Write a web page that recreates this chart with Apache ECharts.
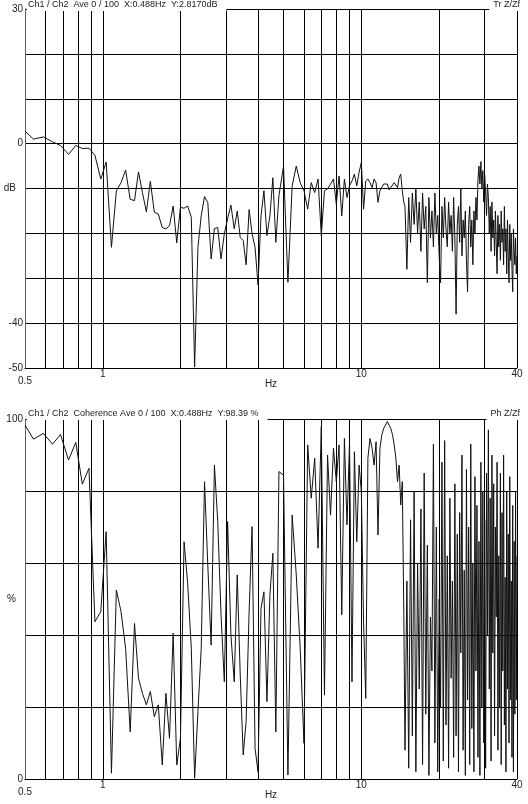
<!DOCTYPE html>
<html>
<head>
<meta charset="utf-8">
<script src="https://cdn.jsdelivr.net/npm/echarts@6/dist/echarts.min.js"></script>
<style>
html, body { margin: 0; padding: 0; background: #fff; }
#main { width: 528px; height: 804px; }
</style>
</head>
<body>
<div id="main"></div>
<script>
// frequency points (Hz), shared by both panels
var freq = [
  0.5, 0.539, 0.589, 0.639, 0.686, 0.737, 0.786, 0.833, 0.884, 0.932,
  0.982, 1.030, 1.080, 1.128, 1.176, 1.225, 1.276, 1.326, 1.374, 1.423,
  1.474, 1.527, 1.582, 1.639, 1.698, 1.754, 1.811, 1.871, 1.932, 1.996,
  2.062, 2.129, 2.199, 2.265, 2.333, 2.402, 2.474, 2.547, 2.624, 2.702,
  2.783, 2.866, 2.951, 3.039, 3.130, 3.223, 3.311, 3.400, 3.491, 3.583,
  3.680, 3.779, 3.880, 3.984, 4.091, 4.200, 4.313, 4.429, 4.547, 4.669,
  4.8, 5.0, 5.2, 5.4, 5.6, 5.8, 6.0, 6.2, 6.4, 6.6,
  6.8, 7.0, 7.2, 7.4, 7.6, 7.8, 8.0, 8.2, 8.4, 8.6,
  8.8, 9.0, 9.2, 9.4, 9.6, 9.8, 10.0, 10.2, 10.4, 10.6,
  10.8, 11.0, 11.2, 11.4, 11.6, 11.8, 12.0, 12.2, 12.4, 12.6,
  12.8, 13.0, 13.2, 13.4, 13.6, 13.8, 14.0, 14.2, 14.4, 14.6,
  14.75, 15, 15.25, 15.5, 15.75, 16, 16.25, 16.5, 16.75, 17, 17.25, 17.5,
  17.75, 18, 18.25, 18.5, 18.75, 19, 19.25, 19.5, 19.75, 20, 20.25, 20.5,
  20.75, 21, 21.25, 21.5, 21.75, 22, 22.25, 22.5, 22.75, 23, 23.25, 23.5,
  23.75, 24, 24.25, 24.5, 24.75, 25, 25.25, 25.5, 25.75, 26, 26.25, 26.5,
  26.75, 27, 27.25, 27.5, 27.75, 28, 28.25, 28.5, 28.75, 29, 29.25, 29.5,
  29.75, 30, 30.25, 30.5, 30.75, 31, 31.25, 31.5, 31.75, 32, 32.25, 32.5,
  32.75, 33, 33.25, 33.5, 33.75, 34, 34.25, 34.5, 34.75, 35, 35.25, 35.5,
  35.75, 36, 36.25, 36.5, 36.75, 37, 37.25, 37.5, 37.75, 38, 38.25, 38.5,
  38.75, 39, 39.25, 39.5, 39.75, 40
];

// top panel: transfer magnitude (dB)
var trDb = [
  2.8, 1.0, 1.5, 0.4, -0.4, -2.4, -0.4, -1.1, -1.0, -2.6,
  -7.9, -4.1, -23.1, -10.5, -8.7, -5.9, -12.4, -12.7, -6.3, -10.9,
  -15.2, -8.4, -15.3, -15.7, -18.7, -19.0, -18.3, -13.9, -22.1, -14.2,
  -14.4, -13.9, -16.4, -49.8, -23.1, -16.1, -11.8, -13.1, -25.7, -18.9,
  -18.7, -25.7, -20.1, -16.7, -13.7, -19.0, -15.0, -20.9, -21.6, -27.0,
  -14.7, -20.1, -23.1, -31.5, -16.1, -10.5, -20.5, -16.1, -7.6, -22.0,
  -11.6, -5.0, -30.9, -9.4, -5.0, -8.7, -10.5, -14.6, -8.7, -10.9,
  -7.9, -20.5, -10.5, -10.1, -9.0, -7.9, -13.5, -7.2, -16.1, -7.9,
  -12.0, -9.4, -8.3, -6.8, -9.4, -6.4, -4.2, -14.6, -8.3, -7.9,
  -8.7, -9.8, -7.9, -8.7, -13.1, -10.5, -10.9, -9.0, -9.4, -9.0,
  -10.3, -9.8, -9.4, -8.7, -8.3, -9.8, -7.6, -6.8, -10.5, -13.1,
  -14, -28, -12, -22, -11, -18, -10, -20, -13, -24, -11, -19,
  -14, -31, -12, -21, -15, -23, -11, -20, -16, -25, -31, -14,
  -21, -12, -19, -23, -13, -20, -16, -24, -12, -21, -38, -18,
  -14, -22, -10, -25, -17, -21, -15, -26, -33, -18, -14, -23,
  -17, -27, -15, -20, -12, -17, -8, -5, -9, -4, -10, -6,
  -13, -7, -11, -16, -9, -12, -20, -14, -24, -13, -21, -17,
  -25, -15, -22, -29, -16, -23, -18, -26, -15, -22, -19, -27,
  -14, -24, -19, -29, -17, -25, -31, -18, -26, -20, -28, -33,
  -19, -24, -27, -21, -29, -25
];

// bottom panel: coherence (%)
var coh = [
  98.3, 94.4, 96.0, 93.0, 95.7, 88.6, 93.5, 81.9, 86.3, 43.7,
  46.5, 68.7, 1.6, 52.5, 46.5, 36.3, 13.1, 43.2, 28.0, 23.8,
  20.6, 24.3, 17.3, 20.6, 3.9, 23.8, 11.3, 40.5, 3.9, 11.3,
  65.9, 54.4, 36.3, 0.2, 18.7, 36.3, 82.6, 59.4, 37.2, 87.2,
  71.5, 45.6, 27.0, 71.5, 40.0, 27.0, 56.7, 28.9, 6.7, 15.9,
  46.5, 70.1, 8.5, 2.0, 47.4, 52.0, 21.5, 51.1, 62.7, 13.1,
  85.4, 84.4, 1.1, 73.3, 56.7, 36.3, 9.9, 92.8, 78.0, 89.1,
  64.1, 97.9, 23.3, 90.0, 73.3, 91.9, 82.6, 92.8, 45.6, 94.6,
  70.6, 93.5, 27.0, 90.9, 65.9, 87.2, 79.8, 43.7, 22.4, 89.1,
  94.6, 91.9, 87.2, 93.7, 67.8, 91.9, 95.6, 97.4, 98.3, 99.3,
  99.7, 97.4, 95.6, 92.8, 89.1, 82.6, 87.2, 76.1, 82.6, 45.6,
  8, 55, 3, 72, 12, 80, 2, 60, 25, 75, 4, 85,
  18, 65, 1, 45, 30, 93, 10, 70, 2, 50, 20, 88,
  5, 94, 15, 62, 3, 78, 28, 55, 6, 82, 12, 68,
  2, 74, 35, 90, 8, 58, 1, 86, 22, 70, 4, 93,
  14, 60, 2, 84, 30, 76, 6, 66, 1, 88, 20, 80,
  10, 72, 3, 85, 40, 97, 25, 78, 5, 90, 35, 82,
  12, 70, 45, 88, 8, 62, 20, 85, 4, 74, 30, 90,
  15, 56, 2, 80, 25, 68, 10, 84, 22, 55, 6, 76,
  2, 66, 18, 80, 22, 62
];

var xGrid = [0.6, 0.7, 0.8, 0.9, 1, 2, 3, 4, 5, 6, 7, 8, 9, 10, 20, 30, 40];
var xLabels = [0.5, 1, 10, 40];
var dbGrid = [-40, -30, -20, -10, 0, 10, 20, 30];
var dbLabels = [-50, -40, -10, 0, 30];
var pctGrid = [20, 40, 60, 80, 100];
var pctLabels = [0, 50, 100];

var head1 = 'Ch1 / Ch2  Ave 0 / 100  X:0.488Hz  Y:2.8170dB';
var head2 = 'Ch1 / Ch2  Coherence Ave 0 / 100  X:0.488Hz  Y:98.39 %';

var FONT = '"Liberation Sans", Arial, sans-serif';
var TXT = '#222';

function xAxisOf(idx) {
    return {
        type: 'log', logBase: 10, gridIndex: idx, min: 0.5, max: 40,
        name: 'Hz', nameLocation: 'middle', nameGap: 11, nameMoveOverlap: false,
        nameTextStyle: { color: TXT, fontSize: 10, fontFamily: FONT },
        axisLine: { onZero: false, lineStyle: { color: '#000', width: 1 } },
        axisTick: { show: false, customValues: xGrid },
        splitLine: { show: true, lineStyle: { color: '#000', width: 1 } },
        minorSplitLine: { show: false },
        axisLabel: {
            customValues: xLabels, margin: 1, color: TXT, fontSize: 10, fontFamily: FONT,
            formatter: function (v) { return v === 0.5 ? '{lo|0.5}' : String(v); },
            rich: { lo: { padding: [7, 0, 0, 0], color: TXT, fontSize: 10, fontFamily: FONT } }
        }
    };
}

function yAxisOf(idx, min, max, grid, labels, unitAt, unit, pad) {
    return {
        type: 'value', gridIndex: idx, min: min, max: max,
        axisLine: { show: true, onZero: false, lineStyle: { color: '#d42a2a', width: 1 } },
        axisTick: { show: false, customValues: grid },
        splitLine: { show: true, lineStyle: { color: '#000', width: 1 } },
        axisLabel: {
            customValues: labels, margin: 2, color: TXT, fontSize: 10, fontFamily: FONT,
            formatter: function (v) { return v === unitAt ? '{u|' + unit + '}' : String(v); },
            rich: { u: { padding: [0, pad, 0, 0], color: TXT, fontSize: 10, fontFamily: FONT } }
        }
    };
}

function pairs(vals) {
    return freq.map(function (f, i) { return [f, vals[i]]; });
}

function headText(x, y, text, align) {
    return {
        type: 'text', x: x, y: y, z: 100,
        style: {
            text: text, fill: TXT, font: '9px ' + FONT,
            align: align, verticalAlign: 'middle',
            backgroundColor: '#fff',
            padding: align === 'left' ? [1, 9, 2, 1] : [1, 1, 2, 4]
        }
    };
}

var chart = echarts.init(document.getElementById('main'));
chart.setOption({
    animation: false,
    backgroundColor: '#fff',
    grid: [
        { left: 25, right: 11, top: 9, height: 359, outerBoundsMode: 'none', containLabel: false },
        { left: 25, right: 11, top: 419, height: 360, outerBoundsMode: 'none', containLabel: false }
    ],
    xAxis: [xAxisOf(0), xAxisOf(1)],
    yAxis: [
        yAxisOf(0, -50, 30, dbGrid, dbLabels, -10, 'dB', 7),
        yAxisOf(1, 0, 100, pctGrid, pctLabels, 50, '%', 7)
    ],
    series: [
        {
            type: 'line', xAxisIndex: 0, yAxisIndex: 0, data: pairs(trDb),
            showSymbol: false, lineStyle: { color: '#111', width: 1 }
        },
        {
            type: 'line', xAxisIndex: 1, yAxisIndex: 1, data: pairs(coh),
            showSymbol: false, lineStyle: { color: '#111', width: 1 }
        }
    ],
    graphic: [
        headText(27, 5, head1, 'left'),
        headText(521, 5, 'Tr Z/Zf', 'right'),
        headText(27, 414, head2, 'left'),
        headText(521, 414, 'Ph Z/Zf', 'right')
    ]
});
</script>
</body>
</html>
